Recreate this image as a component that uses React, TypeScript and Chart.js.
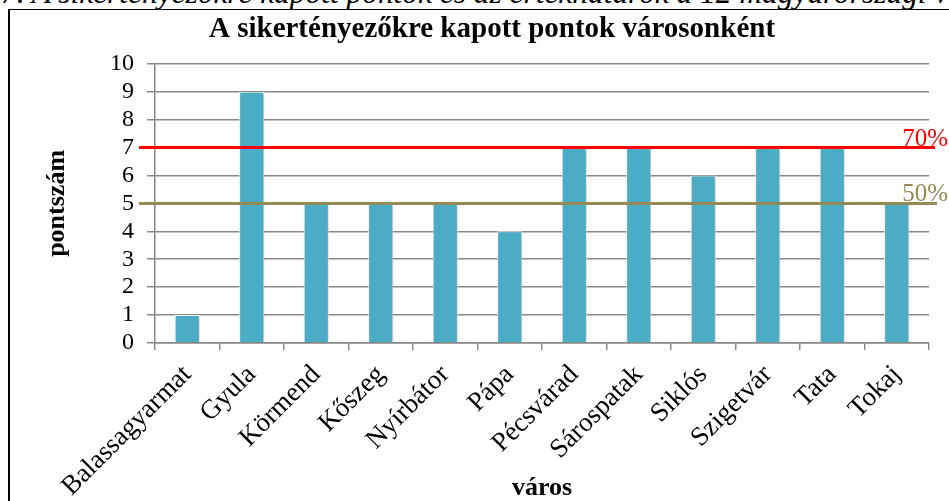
import React, { useEffect, useRef } from 'react';
import { Chart, registerables } from 'chart.js';

Chart.register(...registerables);

const cities = [
  'Balassagyarmat', 'Gyula', 'Körmend', 'Kőszeg', 'Nyírbátor', 'Pápa',
  'Pécsvárad', 'Sárospatak', 'Siklós', 'Szigetvár', 'Tata', 'Tokaj',
];
const points = [1, 9, 5, 5, 5, 4, 7, 7, 6, 7, 7, 5];
const thresholdValues = [7, 5];
const thresholdLabels = ['70%', '50%'];
const thresholdColors = ['#FF0000', '#948A54'];

const chartTitle = 'A sikertényezőkre kapott pontok városonként';
const xTitle = 'város';
const yTitle = 'pontszám';
const caption = '7. A sikertényezőkre kapott pontok és az értékhatárok a 12 magyarországi városban';

const SERIF = '"Liberation Serif", "Times New Roman", Times, serif';

const shadowPlugin = {
  id: 'barShadow',
  beforeDatasetsDraw(chart: any) {
    const ctx = chart.ctx;
    ctx.save();
    ctx.shadowColor = 'rgba(0,0,0,0.28)';
    ctx.shadowBlur = 5;
    ctx.shadowOffsetX = 1;
    ctx.shadowOffsetY = 1;
  },
  afterDatasetsDraw(chart: any) {
    chart.ctx.restore();
  },
};

const yTitlePlugin = {
  id: 'yTitle',
  afterDraw(chart: any) {
    const { ctx, chartArea } = chart;
    ctx.save();
    ctx.translate(57, (chartArea.top + chartArea.bottom) / 2);
    ctx.rotate(-Math.PI / 2);
    ctx.fillStyle = '#000000';
    ctx.font = `bold 26px ${SERIF}`;
    ctx.textAlign = 'center';
    ctx.textBaseline = 'middle';
    ctx.fillText(yTitle, 0, 0);
    ctx.restore();
  },
};

const thresholdPlugin = {
  id: 'thresholds',
  afterDraw(chart: any) {
    const { ctx, chartArea, scales } = chart;
    const y = scales.y;
    thresholdValues.forEach((v, i) => {
      const py = y.getPixelForValue(v);
      ctx.save();
      ctx.strokeStyle = thresholdColors[i];
      ctx.lineWidth = 3;
      ctx.beginPath();
      ctx.moveTo(chartArea.left - 16, py);
      ctx.lineTo(chartArea.right + 6 + i * 2, py);
      ctx.stroke();
      ctx.fillStyle = thresholdColors[i];
      ctx.font = `25px ${SERIF}`;
      ctx.textAlign = 'right';
      ctx.textBaseline = 'alphabetic';
      ctx.fillText(thresholdLabels[i], chart.width - 1, py - 2);
      ctx.restore();
    });
  },
};

export default function App() {
  const ref = useRef<HTMLCanvasElement>(null);

  useEffect(() => {
    if (!ref.current) return;
    const chart = new Chart(ref.current, {
      type: 'bar',
      data: {
        labels: cities,
        datasets: [
          {
            data: points,
            backgroundColor: '#4BACC6',
            borderColor: '#FFFFFF',
            borderWidth: 1,
            barPercentage: 0.39,
            categoryPercentage: 1,
          },
        ],
      },
      options: {
        responsive: false,
        animation: false,
        layout: { padding: { left: 55, right: 20, top: 10, bottom: 0 } },
        plugins: {
          legend: { display: false },
          tooltip: { enabled: false },
          title: {
            display: true,
            text: chartTitle,
            color: '#000000',
            font: { family: SERIF, size: 29, weight: 'bold' },
            padding: { top: 2, bottom: 17 },
          },
        },
        scales: {
          x: {
            grid: {
              display: true,
              drawOnChartArea: false,
              drawTicks: true,
              tickLength: 7,
              color: '#888888',
              lineWidth: 1.5,
              offset: true,
            },
            border: { color: '#888888', width: 1.5 },
            ticks: {
              color: '#000000',
              font: { family: SERIF, size: 27 },
              minRotation: 45,
              maxRotation: 45,
              autoSkip: false,
              padding: 9,
            },
            title: {
              display: true,
              text: xTitle,
              color: '#000000',
              font: { family: SERIF, size: 26, weight: 'bold', lineHeight: 1 },
              padding: { top: 0, bottom: 0 },
            },
            afterFit: (s: any) => {
              s.height = 158;
            },
          },
          y: {
            min: 0,
            max: 10,
            ticks: {
              stepSize: 1,
              autoSkip: false,
              color: '#000000',
              font: { family: SERIF, size: 24 },
              padding: 13,
            },
            grid: { color: '#888888', lineWidth: 1.5, tickLength: 8 },
            border: { color: '#888888', width: 1.5 },
            title: { display: false, text: yTitle },
            afterFit: (s: any) => {
              s.width = 100;
            },
          },
        },
      } as any,
      plugins: [shadowPlugin, thresholdPlugin, yTitlePlugin],
    });
    return () => chart.destroy();
  }, []);

  return (
    <div
      style={{
        position: 'fixed',
        left: 0,
        top: 0,
        width: 949,
        height: 501,
        overflow: 'hidden',
        background: '#FFFFFF',
      }}
    >
      <div
        style={{
          position: 'absolute',
          left: 1,
          top: -21,
          whiteSpace: 'nowrap',
          fontFamily: SERIF,
          fontStyle: 'italic',
          fontSize: 31.4,
          lineHeight: '28px',
          color: '#000',
        }}
      >
        {caption}
      </div>
      <div
        style={{
          position: 'absolute',
          left: 8,
          top: 9,
          width: 1100,
          height: 700,
          borderLeft: '2px solid #000',
          borderTop: '1px solid #000',
          boxSizing: 'border-box',
        }}
      />
      <canvas
        ref={ref}
        width={949}
        height={501}
        style={{ position: 'absolute', left: 0, top: 0, width: 949, height: 501 }}
      />
    </div>
  );
}
